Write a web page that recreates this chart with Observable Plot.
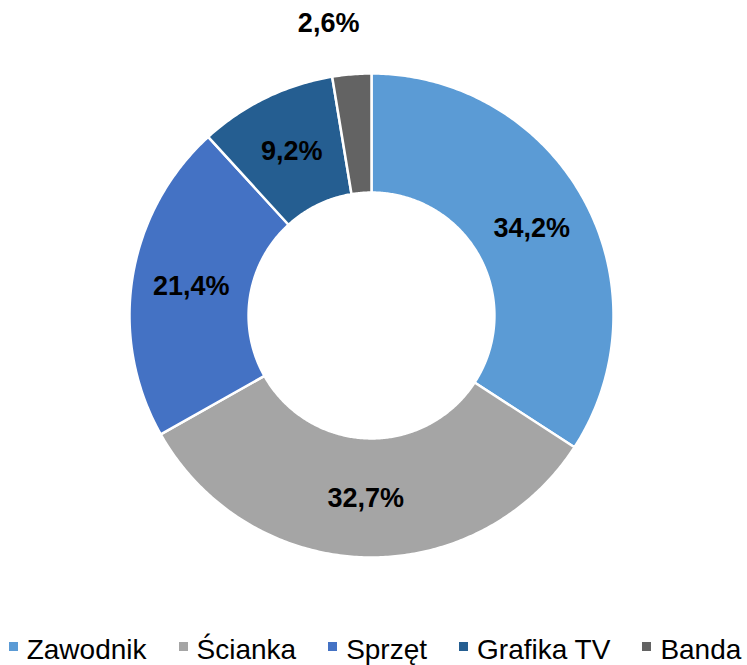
<!DOCTYPE html>
<html>
<head>
<meta charset="utf-8">
<script src="https://cdn.jsdelivr.net/npm/d3@7"></script>
<script src="https://cdn.jsdelivr.net/npm/@observablehq/plot@0.6"></script>
<style>
  html, body { margin: 0; padding: 0; background: #fff; }
  body { width: 747px; height: 665px; overflow: hidden; font-family: "Liberation Sans", Arial, sans-serif; }
  #legend { display: flex; justify-content: center; height: 28px; line-height: 28px; font-size: 28px; color: #000; white-space: nowrap; margin-left: 3px; }
  .item { display: flex; align-items: center; margin: 0 16px; }
  .sw { width: 9px; height: 9px; margin-right: 9px; position: relative; top: -4px; }
</style>
</head>
<body>
<div id="chart"></div>
<div id="legend"></div>
<script>
const categories = ["Zawodnik", "Ścianka", "Sprzęt", "Grafika TV", "Banda"];
const values = [34.2, 32.7, 21.4, 9.2, 2.6];
const labels = ["34,2%", "32,7%", "21,4%", "9,2%", "2,6%"];
const colors = ["#5B9BD5", "#A5A5A5", "#4472C4", "#255E91", "#636363"];

const inner = 0.508;
const arcs = d3.pie().sort(null).value(d => d.value)(
  categories.map((c, i) => ({category: c, value: values[i], label: labels[i]}))
);

function pt(r, a) { return [r * Math.sin(a), r * Math.cos(a)]; }
function slicePolygon(a0, a1) {
  const n = Math.max(4, Math.ceil((a1 - a0) / 0.01));
  const ring = [];
  for (let k = 0; k <= n; k++) ring.push(pt(1, a0 + (a1 - a0) * k / n));
  for (let k = n; k >= 0; k--) ring.push(pt(inner, a0 + (a1 - a0) * k / n));
  ring.push(ring[0]);
  return ring;
}
const features = arcs.map(a => ({
  type: "Feature",
  properties: {category: a.data.category},
  geometry: {type: "Polygon", coordinates: [slicePolygon(a.startAngle, a.endAngle)]}
}));
const labelData = arcs.map(a => {
  const mid = (a.startAngle + a.endAngle) / 2;
  const outside = a.data.value < 5;
  const r = outside ? 1.21 : (1 + inner) / 2;
  const [x, y] = pt(r, mid);
  return {x, y, label: a.data.label, outside};
});
const domain = {type: "Polygon", coordinates: [[[-1,-1],[1,-1],[1,1],[-1,1],[-1,-1]]]};

const chart = Plot.plot({
  width: 747,
  height: 636,
  marginLeft: 129,
  marginRight: 134,
  marginTop: 73,
  marginBottom: 79,
  projection: {type: "reflect-y", domain, clip: false},
  color: {domain: categories, range: colors},
  marks: [
    Plot.geo(features, {fill: d => d.properties.category, stroke: "#fff", strokeWidth: 2.5}),
    Plot.text(labelData.filter(d => !d.outside), {x: "x", y: "y", text: "label", fontSize: 27, fontWeight: "bold", fill: "#000", clip: false}),
    Plot.text(labelData.filter(d => d.outside), {x: "x", y: "y", text: "label", fontSize: 27, fontWeight: "bold", fill: "#000", dx: -19, clip: false})
  ],
  style: {fontFamily: "'Liberation Sans', Arial, sans-serif", background: "#fff", overflow: "visible"}
});
document.getElementById("chart").appendChild(chart);

const legend = document.getElementById("legend");
categories.forEach((c, i) => {
  const item = document.createElement("div");
  item.className = "item";
  const sw = document.createElement("span");
  sw.className = "sw";
  sw.style.background = colors[i];
  const t = document.createElement("span");
  t.textContent = c;
  item.appendChild(sw);
  item.appendChild(t);
  legend.appendChild(item);
});
</script>
</body>
</html>
